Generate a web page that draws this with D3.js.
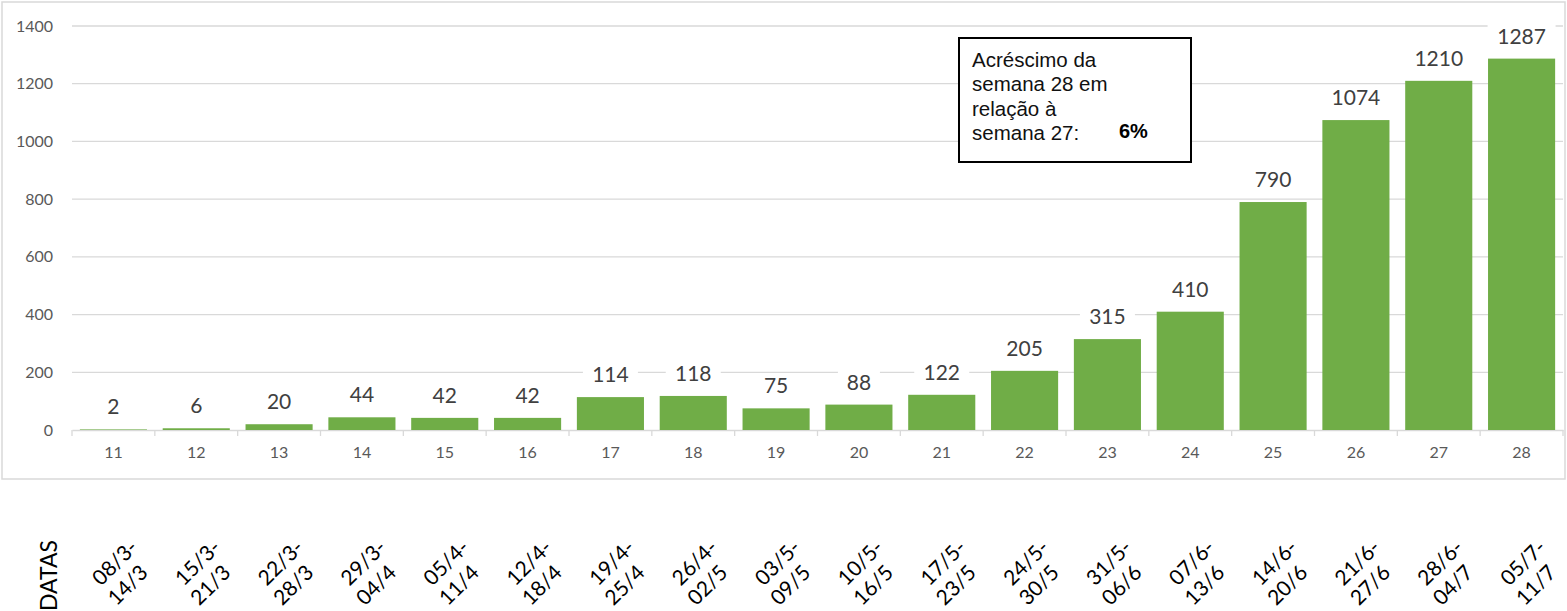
<!DOCTYPE html>
<html>
<head>
<meta charset="utf-8">
<script src="https://cdn.jsdelivr.net/npm/d3@7"></script>
<style>
  body { margin: 0; background: #fff; }
  #chart { width: 1567px; height: 611px; }
</style>
</head>
<body>
<div id="chart"></div>
<script>
// semanas epidemiologicas e casos
const semanas = ['11','12','13','14','15','16','17','18','19','20','21','22','23','24','25','26','27','28'];
const casos = [2, 6, 20, 44, 42, 42, 114, 118, 75, 88, 122, 205, 315, 410, 790, 1074, 1210, 1287];
const datasInicio = ['08/3-','15/3-','22/3-','29/3-','05/4-','12/4-','19/4-','26/4-','03/5-','10/5-','17/5-','24/5-','31/5-','07/6-','14/6-','21/6-','28/6-','05/7-'];
const datasFim = ['14/3','21/3','28/3','04/4','11/4','18/4','25/4','02/5','09/5','16/5','23/5','30/5','06/6','13/6','20/6','27/6','04/7','11/7'];
const yTicks = [0, 200, 400, 600, 800, 1000, 1200, 1400];
const notaLinhas = ['Acréscimo da', 'semana 28 em', 'relação à', 'semana 27:'];
const notaValor = '6%';

const W = 1567, H = 611;
const margin = { top: 26, right: 4, bottom: 181, left: 72 };
const width = W - margin.left - margin.right,
      height = H - margin.top - margin.bottom;

const svg = d3.select('#chart').append('svg')
    .attr('width', W).attr('height', H);

// moldura do grafico
svg.append('rect')
    .attr('x', 2).attr('y', 2)
    .attr('width', 1563).attr('height', 477)
    .attr('fill', 'none')
    .attr('stroke', '#d9d9d9')
    .attr('stroke-width', 1.5);

const g = svg.append('g')
    .attr('transform', 'translate(' + margin.left + ',' + margin.top + ')');

var x = d3.scaleBand()
    .domain(semanas)
    .range([0, 1491])
    .paddingInner(0.19)
    .paddingOuter(0.095);

var y = d3.scaleLinear()
    .domain([0, 1400])
    .range([404, 0]);

// grade
g.append('g')
    .selectAll('line')
    .data(yTicks.filter(d => d > 0))
    .enter().append('line')
    .attr('x1', 0).attr('x2', 1491)
    .attr('y1', d => y(d)).attr('y2', d => y(d))
    .attr('stroke', '#d9d9d9').attr('stroke-width', 1.3);

// eixo y
const yAxis = g.append('g')
    .call(d3.axisLeft(y).tickValues(yTicks).tickFormat(d3.format('d')).tickSize(0).tickPadding(19));
yAxis.select('.domain').remove();
yAxis.selectAll('text')
    .attr('fill', '#595959')
    .style('font-family', 'Lato, "Open Sans", sans-serif')
    .style('font-size', '16px');

// eixo x
const xAxis = g.append('g')
    .attr('transform', 'translate(0,404)')
    .call(d3.axisBottom(x).tickSize(0).tickPadding(17));
xAxis.select('.domain').attr('stroke', '#d9d9d9').attr('stroke-width', 1.3);
xAxis.selectAll('text')
    .attr('fill', '#595959')
    .style('font-family', 'Lato, "Open Sans", sans-serif')
    .style('font-size', '16px');
// marcas entre categorias
g.append('g')
    .selectAll('line')
    .data(semanas.concat(['fim']))
    .enter().append('line')
    .attr('x1', (d, i) => i * x.step()).attr('x2', (d, i) => i * x.step())
    .attr('y1', 404).attr('y2', 410)
    .attr('stroke', '#d9d9d9').attr('stroke-width', 1.3);

// barras
g.selectAll('.bar')
    .data(casos)
    .enter().append('rect')
    .attr('class', 'bar')
    .attr('x', (d, i) => x(semanas[i]))
    .attr('y', d => y(d))
    .attr('width', x.bandwidth())
    .attr('height', d => 404 - y(d))
    .attr('fill', '#70ad47');

// rotulos de valor com fundo branco
const rot = g.selectAll('.rot')
    .data(casos)
    .enter().append('g')
    .attr('class', 'rot')
    .attr('transform', (d, i) => 'translate(' + (x(semanas[i]) + x.bandwidth() / 2) + ',' + (y(d) - 15) + ')');
rot.append('rect')
    .attr('x', d => -(String(d).length * 6.5 + 8))
    .attr('y', -20)
    .attr('width', d => String(d).length * 13 + 16)
    .attr('height', 26)
    .attr('fill', '#fff');
rot.append('text')
    .attr('text-anchor', 'middle')
    .attr('fill', '#404040')
    .style('font-family', 'Lato, "Open Sans", sans-serif')
    .style('font-size', '21px')
    .text(d => d);

// caixa de nota
const nota = svg.append('g').attr('transform', 'translate(959,38)');
nota.append('rect')
    .attr('width', 232).attr('height', 124)
    .attr('fill', '#fff')
    .attr('stroke', '#000').attr('stroke-width', 2);
nota.selectAll('text.linha')
    .data(notaLinhas)
    .enter().append('text')
    .attr('class', 'linha')
    .attr('x', 13)
    .attr('y', (d, i) => 29 + i * 24.3)
    .style('font-family', '"Liberation Sans", Arial, sans-serif')
    .style('font-size', '20.5px')
    .attr('fill', '#111')
    .text(d => d);
nota.append('text')
    .attr('x', 160).attr('y', 100)
    .style('font-family', '"Liberation Sans", Arial, sans-serif')
    .style('font-size', '20px')
    .style('font-weight', 'bold')
    .text(notaValor);

// linha de datas
svg.append('text')
    .attr('transform', 'translate(57,611) rotate(-90)')
    .style('font-family', 'Lato, "Open Sans", sans-serif')
    .style('font-size', '23px')
    .attr('fill', '#000')
    .text('DATAS');

const datas = svg.selectAll('.data')
    .data(semanas)
    .enter().append('g')
    .attr('class', 'data')
    .attr('transform', d => 'translate(' + (margin.left + x(d) + x.bandwidth() / 2 + 1) + ',562) rotate(-45)');
datas.append('text')
    .attr('text-anchor', 'middle')
    .style('font-family', 'Lato, "Open Sans", sans-serif')
    .style('font-size', '21px')
    .attr('fill', '#000')
    .each(function(d, i) {
        const t = d3.select(this);
        t.append('tspan').attr('x', 0).attr('y', 8).text(datasInicio[i]);
        t.append('tspan').attr('x', -7).attr('y', 33).text(datasFim[i]);
    });
</script>
</body>
</html>
